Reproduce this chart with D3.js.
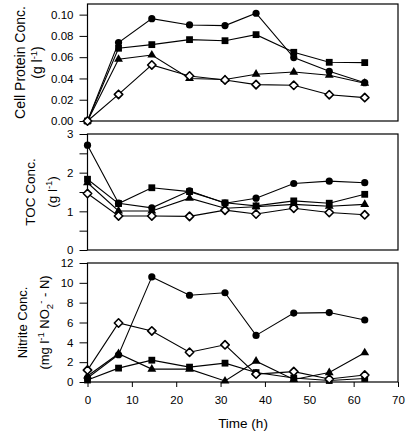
<!DOCTYPE html>
<html><head><meta charset="utf-8">
<script src="https://cdn.jsdelivr.net/npm/d3@7"></script>
<style>body{margin:0;background:#fff}svg{display:block}text{font-family:"Liberation Sans",Arial,sans-serif;fill:#000}</style>
</head><body>
<script>
const time = [0, 7, 14.5, 23, 31, 38, 46.5, 54.5, 62.5];
const xTicks = [0, 10, 20, 30, 40, 50, 60, 70];

const proteinCircle   = [0, 0.0737, 0.0962, 0.0903, 0.0897, 0.1013, 0.0596, 0.0467, 0.0360];
const proteinSquare   = [0, 0.0684, 0.0718, 0.0765, 0.0755, 0.0812, 0.0646, 0.0552, 0.0549];
const proteinTriangle = [0, 0.0580, 0.0620, 0.0400, 0.0390, 0.0440, 0.0460, 0.0430, 0.0355];
const proteinDiamond  = [0, 0.0250, 0.0527, 0.0423, 0.0386, 0.0342, 0.0336, 0.0247, 0.0220];
const proteinTicks = [0, 0.02, 0.04, 0.06, 0.08, 0.10];

const tocCircle   = [2.71, 1.21, 1.09, 1.53, 1.21, 1.34, 1.72, 1.78, 1.74];
const tocSquare   = [1.83, 1.20, 1.61, 1.51, 1.22, 1.14, 1.27, 1.21, 1.44];
const tocTriangle = [1.74, 1.01, 1.01, 1.34, 1.08, 1.12, 1.18, 1.13, 1.18];
const tocDiamond  = [1.46, 0.88, 0.88, 0.87, 1.03, 0.93, 1.08, 0.97, 0.91];
const tocTicks = [0, 0.5, 1, 1.5, 2, 2.5, 3];

const nitriteCircle   = [0.4, 2.75, 10.6, 8.75, 9.0, 4.7, 6.95, 7.0, 6.25];
const nitriteSquare   = [0.2, 1.4, 2.2, 1.5, 1.9, 0.95, 0.4, 0.15, 0.35];
const nitriteTriangle = [0.6, 2.85, 1.3, 1.3, 0.1, 2.1, 0.25, 0.95, 2.95];
const nitriteDiamond  = [1.2, 5.95, 5.15, 3.0, 3.75, 0.8, 1.05, 0.3, 0.7];
const nitriteTicks = [0, 2, 4, 6, 8, 10, 12];

const W = 410, H = 436;
const svg = d3.select("body").append("svg").attr("width", W).attr("height", H);
const x = d3.scaleLinear().domain([0, 70]).range([87.5, 398]);

const panels = [
  {top: 4, bottom: 121, domain: [0, 0.11], ticks: proteinTicks, fmt: d3.format(".2f"),
   series: [proteinCircle, proteinSquare, proteinTriangle, proteinDiamond],
   lx1: 25, lx2: 42, fs: 14,
   label1: [{t: "Cell Protein Conc."}], label2: [{t: "(g l"}, {t: "-1", sup: true}, {t: ")", back: 5}]},
  {top: 134, bottom: 250, domain: [0, 3], ticks: tocTicks, fmt: d => Number.isInteger(d) ? d : "",
   series: [tocCircle, tocSquare, tocTriangle, tocDiamond],
   lx1: 35, lx2: 57, fs: 13.5,
   label1: [{t: "TOC Conc."}], label2: [{t: "(g l"}, {t: "-1", sup: true}, {t: ")", back: 5}]},
  {top: 263, bottom: 382, domain: [0, 12], ticks: nitriteTicks, fmt: d3.format("d"),
   series: [nitriteCircle, nitriteSquare, nitriteTriangle, nitriteDiamond],
   lx1: 27, lx2: 49, fs: 13,
   label1: [{t: "Nitrite Conc."}],
   label2: [{t: "(mg l"}, {t: "-1", sup: true}, {t: " NO", back: 5}, {t: "2", sub: true}, {t: "-", sup2: true}, {t: " - N)", back: 5}]}
];

const kinds = ["circle", "square", "triangle", "diamond"];

function marker(g, kind, cx, cy) {
  if (kind === "circle") {
    g.append("circle").attr("cx", cx).attr("cy", cy).attr("r", 3.6).attr("fill", "#000");
  } else if (kind === "square") {
    g.append("rect").attr("x", cx - 3.4).attr("y", cy - 3.4).attr("width", 6.8).attr("height", 6.8).attr("fill", "#000");
  } else if (kind === "triangle") {
    g.append("path").attr("d", d3.symbol().type(d3.symbolTriangle).size(34)()).attr("transform", `translate(${cx},${cy})`).attr("fill", "#000");
  } else {
    const r = 4.2;
    g.append("path").attr("d", `M${cx},${cy - r}L${cx + r},${cy}L${cx},${cy + r}L${cx - r},${cy}Z`)
      .attr("fill", "#fff").attr("stroke", "#000").attr("stroke-width", 1.6).attr("stroke-linejoin", "round");
  }
}

panels.forEach((p, pi) => {
  const y = d3.scaleLinear().domain(p.domain).range([p.bottom, p.top]);
  const g = svg.append("g");
  const ax = g.append("g").attr("transform", `translate(${x(0)},0)`)
    .call(d3.axisLeft(y).tickValues(p.ticks).tickFormat(p.fmt).tickSize(8).tickPadding(6));
  ax.select(".domain").remove();
  ax.selectAll("line").attr("stroke", "#000").attr("stroke-width", 1);
  ax.selectAll("text").style("font-size", "11.5px").attr("font-family", null);
  g.append("rect").attr("x", x(0)).attr("y", p.top).attr("width", x(70) - x(0)).attr("height", p.bottom - p.top)
    .attr("fill", "none").attr("stroke", "#000").attr("stroke-width", 1.2);
  if (pi === 2) {
    const xa = g.append("g").attr("transform", `translate(0,${p.bottom})`)
      .call(d3.axisBottom(x).tickValues(xTicks).tickFormat(d3.format("d")).tickSize(5).tickPadding(9));
    xa.select(".domain").remove();
    xa.selectAll("line").attr("stroke", "#000");
    xa.selectAll("text").style("font-size", "11.5px").attr("font-family", null);
  }
  const line = d3.line().x((d, i) => x(time[i])).y(d => y(d));
  p.series.forEach(s => {
    g.append("path").attr("d", line(s)).attr("fill", "none").attr("stroke", "#000").attr("stroke-width", 1.1);
  });
  p.series.forEach((s, si) => {
    s.forEach((v, i) => marker(g, kinds[si], x(time[i]), y(v)));
  });
  const cy = (p.top + p.bottom) / 2;
  const t1 = svg.append("text").attr("transform", `translate(${p.lx1},${cy}) rotate(-90)`)
    .attr("text-anchor", "middle").style("font-size", p.fs + "px");
  p.label1.forEach(s => t1.append("tspan").text(s.t));
  const t2 = svg.append("text").attr("transform", `translate(${p.lx2},${cy}) rotate(-90)`)
    .attr("text-anchor", "middle").style("font-size", p.fs + "px");
  p.label2.forEach(s => {
    const ts = t2.append("tspan").text(s.t);
    if (s.sup) ts.attr("dy", -5).style("font-size", "9.5px");
    if (s.sub) ts.attr("dy", 4).style("font-size", "9.5px");
    if (s.sup2) ts.attr("dy", -9).style("font-size", "9.5px");
    if (s.back) ts.attr("dy", s.back);
  });
});

svg.append("text").attr("x", 243).attr("y", 428).attr("text-anchor", "middle")
  .style("font-size", "13.5px").text("Time (h)");
</script>
</body></html>
